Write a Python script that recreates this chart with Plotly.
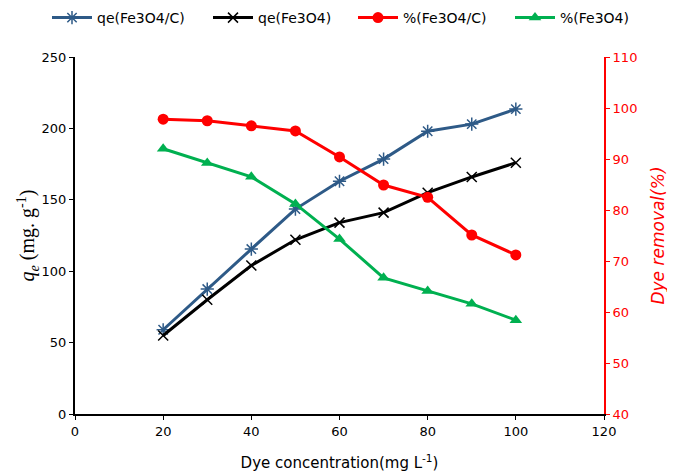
import plotly.graph_objects as go

conc = [20, 30, 40, 50, 60, 70, 80, 90, 100]
qe_fe3o4_c = [59, 87.5, 115.5, 143.5, 163, 178.5, 198, 203, 213.5]
qe_fe3o4 = [55, 80, 104, 122, 134, 141, 155, 166, 176]
pct_fe3o4_c = [97.8, 97.5, 96.5, 95.5, 90.4, 84.9, 82.5, 75.1, 71.2]
pct_fe3o4 = [92, 89.2, 86.5, 81.2, 74.3, 66.7, 64.1, 61.6, 58.4]

blue = "#2E5A87"
green = "#00B050"
red = "#FF0000"
FONT = "DejaVu Sans, Liberation Sans, Arial"
W, H = 667, 465

fig = go.Figure()
fig.add_trace(go.Scatter(x=conc, y=qe_fe3o4_c, name="qe(Fe3O4/C)", mode="lines+markers", legend="legend",
                         line=dict(color=blue, width=3),
                         marker=dict(symbol="asterisk-open", size=11, color=blue, line=dict(color=blue, width=1.5))))
fig.add_trace(go.Scatter(x=conc, y=qe_fe3o4, name="qe(Fe3O4)", mode="lines+markers", legend="legend2",
                         line=dict(color="black", width=3),
                         marker=dict(symbol="x-thin-open", size=10, color="black", line=dict(color="black", width=1.5))))
fig.add_trace(go.Scatter(x=conc, y=pct_fe3o4_c, name="%(Fe3O4/C)", mode="lines+markers", yaxis="y2", legend="legend3",
                         line=dict(color=red, width=3),
                         marker=dict(symbol="circle", size=11, color=red)))
fig.add_trace(go.Scatter(x=conc, y=pct_fe3o4, name="%(Fe3O4)", mode="lines+markers", yaxis="y2", legend="legend4",
                         line=dict(color=green, width=3),
                         marker=dict(symbol="triangle-up", size=11, color=green)))

def leg(px):
    return dict(orientation="h", xref="container", yref="container", x=px / W, xanchor="left",
                y=1 - 10 / H, yanchor="middle", font=dict(family=FONT, size=14, color="black"),
                bgcolor="rgba(0,0,0,0)", borderwidth=0, itemwidth=40)

fig.update_layout(
    width=W, height=H,
    margin=dict(l=67, r=71, t=49, b=59, autoexpand=False),
    paper_bgcolor="white", plot_bgcolor="white",
    font=dict(family=FONT, size=13, color="black"),
    showlegend=True,
    legend=leg(39), legend2=leg(200), legend3=leg(345), legend4=leg(502),
    xaxis=dict(range=[0, 120], tickvals=[0, 20, 40, 60, 80, 100, 120], showgrid=False, zeroline=False,
               showline=True, linecolor="black", linewidth=2, ticks="outside", ticklen=4,
               tickcolor="black", tickfont=dict(size=13), automargin=False,
               title=dict(text="Dye concentration(mg L<sup>-1</sup>)", font=dict(size=15), standoff=20)),
    yaxis=dict(range=[0, 250], tickvals=[0, 50, 100, 150, 200, 250], showgrid=False, zeroline=False,
               showline=True, linecolor="black", linewidth=2, ticks="outside", ticklen=4,
               tickcolor="black", tickfont=dict(size=13), automargin=False,
               title=dict(text="<i>q<sub>e</sub></i> (mg. g<sup>-1</sup>)",
                          font=dict(family="Liberation Serif, Times New Roman", size=20), standoff=0)),
    yaxis2=dict(range=[40, 110], tickvals=[40, 50, 60, 70, 80, 90, 100, 110], overlaying="y", side="right",
                showgrid=False, zeroline=False, showline=True, linecolor=red, linewidth=2,
                ticks="outside", ticklen=4, tickcolor=red, tickfont=dict(size=13, color=red), automargin=False,
                title=dict(text="<i>Dye removal(%)</i>", font=dict(size=17, color=red), standoff=16)),
)

fig.write_html("out.html")
